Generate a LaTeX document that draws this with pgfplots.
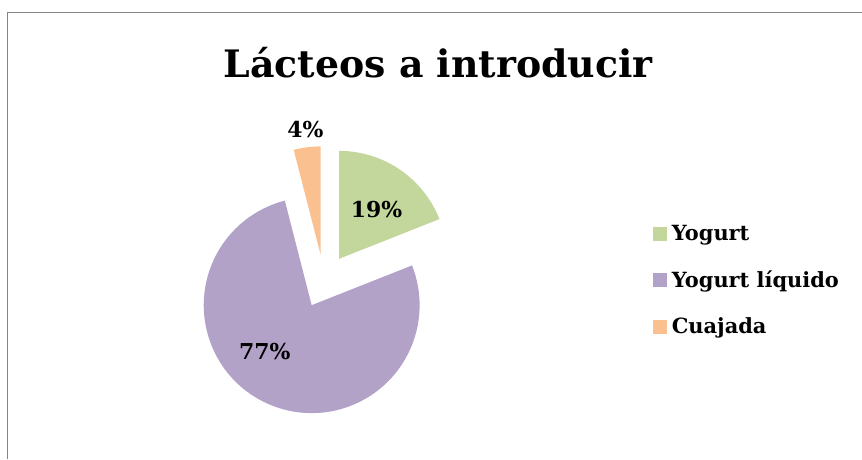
\documentclass[border=0pt]{standalone}
\usepackage{pgfplots}
\pgfplotsset{compat=1.18}
\usepackage{pgfplotstable}
\usepackage{fontspec}
\setmainfont{DejaVu Serif}

\definecolor{cYog}{HTML}{C3D69B}
\definecolor{cLiq}{HTML}{B2A2C7}
\definecolor{cCua}{HTML}{FAC090}
\definecolor{frame}{HTML}{868686}

% porcentajes
\pgfplotstableread[col sep=comma]{
label,value
Yogurt,19
Yogurt líquido,77
Cuajada,4
}\lacteos

\pgfplotstablegetelem{0}{value}\of\lacteos \let\vA\pgfplotsretval
\pgfplotstablegetelem{1}{value}\of\lacteos \let\vB\pgfplotsretval
\pgfplotstablegetelem{2}{value}\of\lacteos \let\vC\pgfplotsretval

% centre of the pie (px, y up), radius, explosion
\def\cx{324.1}
\def\cy{177.7}
\def\R{108}
\def\dd{27}

% #1 start angle, #2 value in %, #3 colour
\newcommand\slice[3]{%
  \pgfplotsextra{%
    \pgfmathsetmacro\aend{#1-3.6*#2}%
    \pgfmathsetmacro\amid{#1-1.8*#2}%
    \pgfmathsetmacro\px{\cx+\dd*cos(\amid)}%
    \pgfmathsetmacro\py{\cy+\dd*sin(\amid)}%
    \fill[#3] (axis cs:\px,\py) -- ++(#1:\R bp) arc[start angle=#1, end angle=\aend, radius=\R bp] -- cycle;
  }%
}

\begin{document}
\begin{tikzpicture}
\begin{axis}[hide axis, scale only axis, width=862bp, height=459bp,
  xmin=0, xmax=862, ymin=0, ymax=459, clip=false]
  \path (axis cs:0,0) rectangle (axis cs:862,459);
  % chart frame
  \draw[frame, line width=1bp] (axis cs:7.5,0) -- (axis cs:7.5,446) -- (axis cs:862,446);

  \pgfmathsetmacro\sA{90}
  \pgfmathsetmacro\sB{90-3.6*\vA}
  \pgfmathsetmacro\sC{90-3.6*(\vA+\vB)}
  \slice{\sA}{\vA}{cYog}
  \slice{\sB}{\vB}{cLiq}
  \slice{\sC}{\vC}{cCua}

  \node[font=\fontsize{38}{44}\selectfont\bfseries, anchor=base] at (axis cs:438.5,381) {Lácteos a introducir};

  \node[font=\fontsize{22}{26}\selectfont\bfseries, anchor=base] at (axis cs:376.7,241) {\vA\%};
  \node[font=\fontsize{22}{26}\selectfont\bfseries, anchor=base] at (axis cs:265,99) {\vB\%};
  \node[font=\fontsize{22}{26}\selectfont\bfseries, anchor=base] at (axis cs:305.5,321.3) {\vC\%};

  \fill[cYog] (axis cs:653,218) rectangle (axis cs:667,232);
  \fill[cLiq] (axis cs:653,171.5) rectangle (axis cs:667,185.5);
  \fill[cCua] (axis cs:653,125) rectangle (axis cs:667,139);
  \node[font=\fontsize{21}{25}\selectfont\bfseries, anchor=base west, inner sep=0pt] at (axis cs:672,218.3) {Yogurt};
  \node[font=\fontsize{21}{25}\selectfont\bfseries, anchor=base west, inner sep=0pt] at (axis cs:672,171.8) {Yogurt líquido};
  \node[font=\fontsize{21}{25}\selectfont\bfseries, anchor=base west, inner sep=0pt] at (axis cs:672,125.3) {Cuajada};
\end{axis}
\end{tikzpicture}
\end{document}
